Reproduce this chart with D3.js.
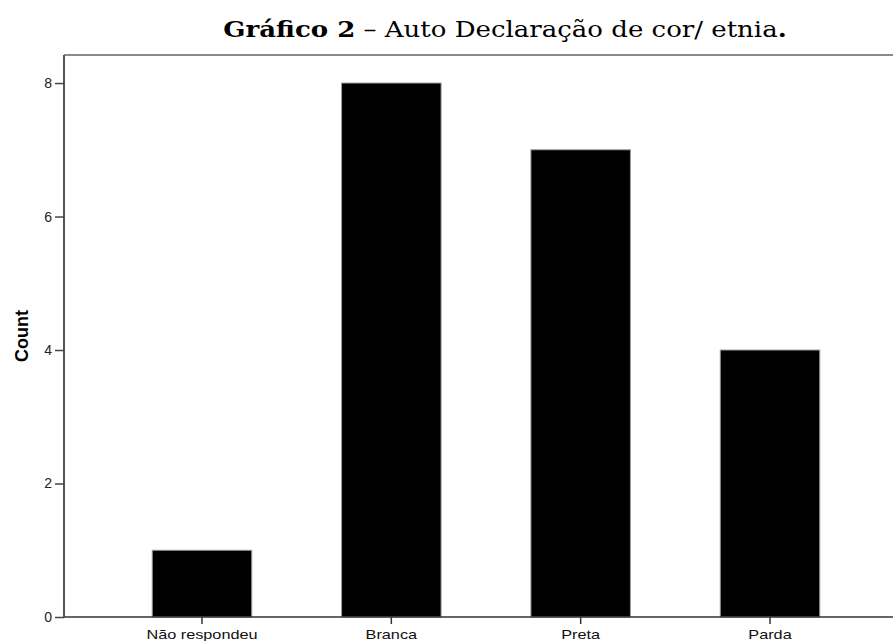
<!DOCTYPE html>
<html><head><meta charset="utf-8">
<script src="https://cdn.jsdelivr.net/npm/d3@7"></script>
<style>body{margin:0;background:#fff}svg{display:block}</style>
</head><body>
<svg id="c" width="893" height="641"></svg>
<script>
const categories = ["Não respondeu", "Branca", "Preta", "Parda"];
const counts = [1, 8, 7, 4];
const yTicks = [0, 2, 4, 6, 8];
const titleBold = "Gráfico 2";
const titleRest = " – Auto Declaração de cor/ etnia";
const yLabel = "Count";

(function () {
const svg = d3.select("#c");
const pLeft = 64, pRight = 908, pTop = 55, pBottom = 617;
const sans = "Arial, 'Liberation Sans', sans-serif";

const x = d3.scaleBand().domain(categories).range([pLeft, pRight])
  .paddingInner(0.4744).paddingOuter(0.466);
const y = d3.scaleLinear().domain([0, 8.42]).range([pBottom, pTop]);

// frame top line
svg.append("line").attr("x1", pLeft).attr("x2", 893).attr("y1", pTop).attr("y2", pTop)
  .attr("stroke", "#8a8a8a").attr("stroke-width", 2);

// bars
svg.selectAll("rect.bar").data(categories).enter().append("rect")
  .attr("class", "bar")
  .attr("x", d => x(d))
  .attr("width", x.bandwidth())
  .attr("y", (d, i) => y(counts[i]))
  .attr("height", (d, i) => y(0) - y(counts[i]))
  .attr("fill", "#000").attr("stroke", "#9a9a9a").attr("stroke-width", 1);

// y axis
const yAxis = d3.axisLeft(y).tickValues(yTicks).tickSize(9).tickPadding(3).tickFormat(d3.format("d"));
const gy = svg.append("g").attr("transform", `translate(${pLeft},0)`).call(yAxis);
gy.select(".domain").attr("d", `M0,${pTop}V${pBottom}`).attr("stroke", "#555").attr("stroke-width", 2);
gy.selectAll(".tick line").attr("stroke", "#444").attr("stroke-width", 1.5);
gy.selectAll(".tick text").attr("font-family", sans)
  .attr("font-size", 14).attr("fill", "#222");

// x axis
const xAxis = d3.axisBottom(x).tickSize(7).tickPadding(3);
const gx = svg.append("g").attr("transform", `translate(0,${pBottom})`).call(xAxis);
gx.select(".domain").attr("d", `M${pLeft},0H893`).attr("stroke", "#333").attr("stroke-width", 1.5);
gx.selectAll(".tick line").attr("stroke", "#333").attr("stroke-width", 1.5);
gx.selectAll(".tick text").attr("font-family", sans)
  .attr("font-size", 13).attr("fill", "#111")
  .attr("dy", null).attr("y", 22)
  .attr("transform", "scale(1.25,1)");

// y label
svg.append("text").attr("transform", "translate(28,336) rotate(-90)")
  .attr("text-anchor", "middle")
  .attr("font-family", sans)
  .attr("font-weight", "bold").attr("font-size", 18).attr("fill", "#000")
  .text(yLabel);

// title
const cx = 505;
const t = svg.append("text").attr("x", 0).attr("y", 37).attr("text-anchor", "middle")
  .attr("font-family", "'DejaVu Serif', serif").attr("font-size", 22).attr("fill", "#000");
t.append("tspan").attr("font-weight", "bold").text(titleBold);
t.append("tspan").text(titleRest);
t.append("tspan").attr("font-weight", "bold").text(".");
const w = t.node().getComputedTextLength();
t.attr("transform", `translate(${cx},0) scale(${564 / w},1)`);
})();
</script>
</body></html>
